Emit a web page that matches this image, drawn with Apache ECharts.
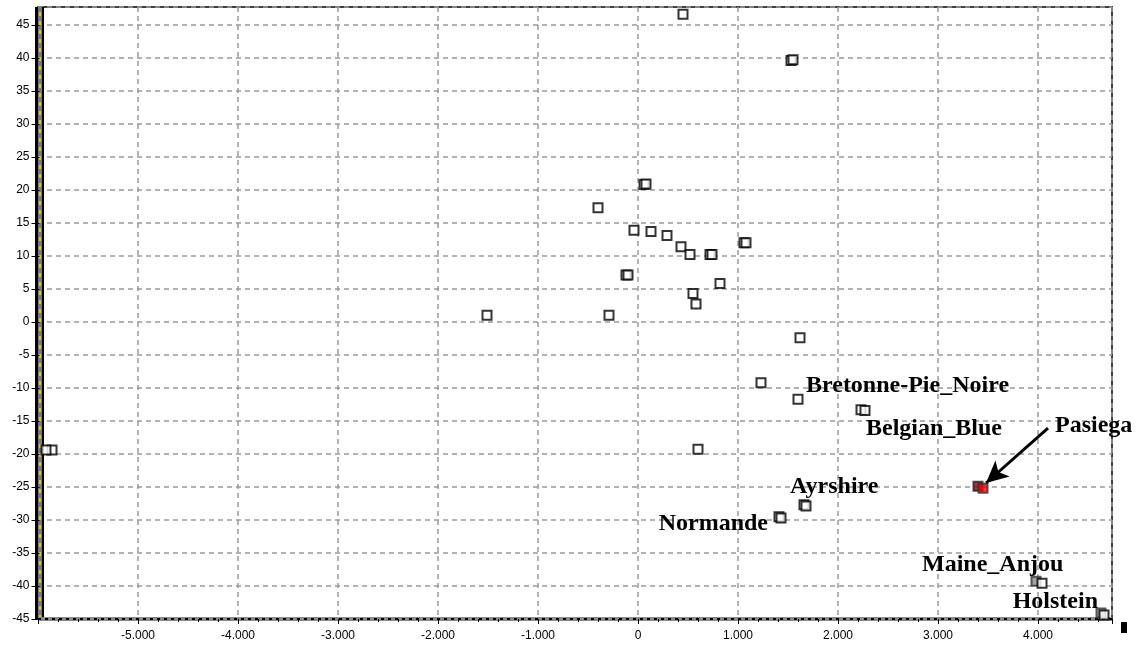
<!DOCTYPE html>
<html><head><meta charset="utf-8">
<script src="https://cdn.jsdelivr.net/npm/echarts@6/dist/echarts.min.js"></script>
<style>html,body{margin:0;padding:0;background:#fff}#c{width:1141px;height:648px}</style>
</head><body><div id="c"></div>
<script>
// unlabelled breeds (front markers)
const otherX = [-5.92, 0.45, 1.55, 0.08, -0.40, -0.04, 0.13, 0.29, 0.43, 0.52, 0.74, 1.08, -0.10, 0.82, 0.55, 0.58, -1.51, -0.29, 1.62, 1.23, 0.60, 2.23];
const otherY = [-19.4, 46.6, 39.7, 20.9, 17.3, 13.9, 13.7, 13.1, 11.4, 10.2, 10.2, 12.0, 7.1, 5.8, 4.3, 2.7, 1.0, 1.0, -2.4, -9.2, -19.3, -13.3];
// partly hidden duplicate markers behind
const backX = [-5.86, 1.53, 0.06, -0.12, 1.06, 0.72, 1.66, 1.41];
const backY = [-19.4, 39.6, 20.8, 7.1, 12.0, 10.2, -27.7, -29.5];
const greyBackX = [3.98, 4.63];
const greyBackY = [-39.3, -44.1];
// labelled breeds
const breedNames = ['Bretonne-Pie_Noire', 'Belgian_Blue', 'Ayrshire', 'Normande', 'Maine_Anjou', 'Holstein'];
const breedX = [1.60, 2.27, 1.68, 1.43, 4.04, 4.66];
const breedY = [-11.7, -13.4, -27.9, -29.7, -39.6, -44.4];
// highlighted breed
const pasiegaName = 'Pasiega';
const pasiegaX = [3.45];
const pasiegaY = [-25.2];
const pasiegaBackX = [3.40];
const pasiegaBackY = [-24.9];
// arrow annotation (data units)
const arrowTail = [4.10, -16.1];
const arrowTip = [3.48, -24.4];

const labelStyle = {
  'Bretonne-Pie_Noire': {align: 'left', offset: [8, -13]},
  'Belgian_Blue': {align: 'left', offset: [1, 18]},
  'Ayrshire': {align: 'left', offset: [-16, -19]},
  'Normande': {align: 'right', offset: [-13, 6]},
  'Maine_Anjou': {align: 'left', offset: [-120, -19]},
  'Holstein': {align: 'right', offset: [-6, -13]},
  'Pasiega': {align: 'left', offset: [72, -62]}
};
const labelFont = {fontFamily: 'Liberation Serif', fontWeight: 'bold', fontSize: 24, color: '#000', textBorderWidth: 0, opacity: 1};
const axisFont = {fontFamily: 'Liberation Sans', fontSize: 12, color: '#000'};

function pts(xs, ys) { return xs.map((x, i) => [x, ys[i]]); }
function named(names, xs, ys) {
  return names.map((n, i) => ({
    name: n, value: [xs[i], ys[i]],
    label: Object.assign({show: true, formatter: n, position: 'inside', verticalAlign: 'middle'}, labelFont, labelStyle[n])
  }));
}

const XMIN = -6, XMAX = 4.74, YMIN = -45, YMAX = 47.7;
const sq = {symbol: 'rect', symbolSize: 9};
const white = {color: '#fff', borderColor: '#000', borderWidth: 2};
const yShift = -1.5;

const chart = echarts.init(document.getElementById('c'), null, {renderer: 'canvas'});
chart.setOption({
  animation: false,
  grid: {left: 38, right: 29, top: 7, bottom: 29, show: true, borderColor: '#404040', borderWidth: 2, backgroundColor: '#fff'},
  xAxis: [
    {type: 'value', min: XMIN, max: XMAX, interval: 1,
     axisLine: {show: true, onZero: false, lineStyle: {color: '#8a8a8a', width: 4, cap: 'butt'}},
     axisTick: {show: true, length: 5, lineStyle: {color: '#000', width: 1}},
     minorTick: {show: true, splitNumber: 5, length: 3, lineStyle: {color: '#000'}},
     axisLabel: Object.assign({showMinLabel: false, showMaxLabel: false, margin: 11,
       formatter: v => v === 0 ? '0' : v.toFixed(3)}, axisFont),
     splitLine: {show: true, lineStyle: {color: '#9a9a9a', width: 1.5, type: [5, 4]}}},
    {type: 'value', min: XMIN, max: XMAX, interval: 1, position: 'bottom',
     axisLine: {show: true, onZero: false, lineStyle: {color: '#000', width: 2, type: [3, 4], cap: 'butt'}},
     axisTick: {show: false}, axisLabel: {show: false}, splitLine: {show: false}}
  ],
  yAxis: [
    {type: 'value', min: YMIN, max: YMAX, interval: 5, offset: yShift,
     axisLine: {show: true, onZero: false, lineStyle: {color: '#000', width: 9, cap: 'butt'}},
     axisTick: {show: true, length: 8, lineStyle: {color: '#000', width: 1}},
     axisLabel: Object.assign({showMaxLabel: false, margin: 10}, axisFont),
     splitLine: {show: true, lineStyle: {color: '#9a9a9a', width: 1.5, type: [5, 4]}}},
    {type: 'value', min: YMIN, max: YMAX, interval: 5, position: 'left', offset: yShift,
     axisLine: {show: true, onZero: false, lineStyle: {color: '#7a7a7a', width: 4, cap: 'butt'}},
     axisTick: {show: false}, axisLabel: {show: false}, splitLine: {show: false}},
    {type: 'value', min: YMIN, max: YMAX, interval: 5, position: 'left', offset: yShift,
     axisLine: {show: true, onZero: false, lineStyle: {color: '#f2e600', width: 1.5, type: [4, 5], cap: 'butt'}},
     axisTick: {show: false}, axisLabel: {show: false}, splitLine: {show: false}}
  ],
  graphic: [{type: 'rect', left: 1121, top: 622, shape: {width: 6, height: 11}, style: {fill: '#000'}}],
  series: [
    Object.assign({type: 'scatter', data: pts(backX, backY), itemStyle: white, z: 3}, sq),
    Object.assign({type: 'scatter', data: pts(greyBackX, greyBackY), itemStyle: {color: '#8c8c8c', borderColor: '#333', borderWidth: 2}, z: 3}, sq),
    Object.assign({type: 'scatter', data: pts(pasiegaBackX, pasiegaBackY), itemStyle: {color: '#9a0000', borderColor: '#222', borderWidth: 2}, z: 3}, sq),
    Object.assign({type: 'scatter', data: pts(otherX, otherY), itemStyle: white, z: 4}, sq),
    Object.assign({type: 'scatter', data: named(breedNames, breedX, breedY), itemStyle: white, z: 4}, sq),
    Object.assign({type: 'scatter', data: named([pasiegaName], pasiegaX, pasiegaY),
      itemStyle: {color: '#ff0000', borderColor: '#333', borderWidth: 2}, z: 4,
      markLine: {silent: true, symbol: ['none', 'arrow'], symbolSize: [16, 22], z: 5,
        lineStyle: {color: '#000', width: 3, type: 'solid'}, label: {show: false},
        data: [[{coord: arrowTail}, {coord: arrowTip}]]}}, sq)
  ]
});
</script></body></html>
